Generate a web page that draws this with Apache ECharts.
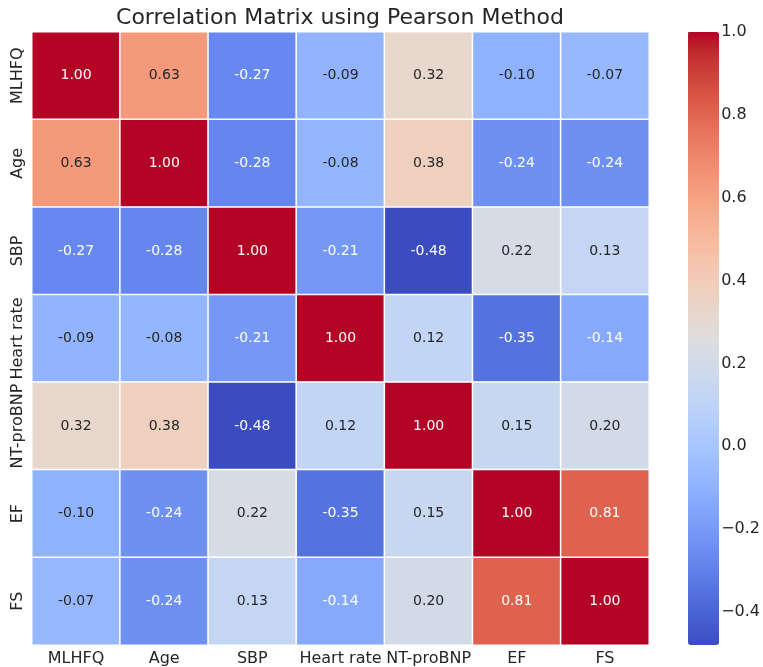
<!DOCTYPE html>
<html>
<head>
<meta charset="utf-8">
<script src="https://cdn.jsdelivr.net/npm/echarts@6/dist/echarts.min.js"></script>
<style>
  html, body { margin: 0; padding: 0; background: #fff; }
  #chart { width: 763px; height: 667px; }
</style>
</head>
<body>
<div id="chart"></div>
<script>
// Variables in the correlation matrix
const variables = ['MLHFQ', 'Age', 'SBP', 'Heart rate', 'NT-proBNP', 'EF', 'FS'];

// Pearson coefficients, one row per variable
const rowMLHFQ     = [1.00, 0.63, -0.27, -0.09, 0.32, -0.10, -0.07];
const rowAge       = [0.63, 1.00, -0.28, -0.08, 0.38, -0.24, -0.24];
const rowSBP       = [-0.27, -0.28, 1.00, -0.21, -0.48, 0.22, 0.13];
const rowHeartRate = [-0.09, -0.08, -0.21, 1.00, 0.12, -0.35, -0.14];
const rowNTproBNP  = [0.32, 0.38, -0.48, 0.12, 1.00, 0.15, 0.20];
const rowEF        = [-0.10, -0.24, 0.22, -0.35, 0.15, 1.00, 0.81];
const rowFS        = [-0.07, -0.24, 0.13, -0.14, 0.20, 0.81, 1.00];
const matrix = [rowMLHFQ, rowAge, rowSBP, rowHeartRate, rowNTproBNP, rowEF, rowFS];

// Colour bar tick labels
const colorbarTicks = [-0.4, -0.2, 0.0, 0.2, 0.4, 0.6, 0.8, 1.0];

const vMin = -0.48, vMax = 1.0;

// Diverging "coolwarm" palette (33 evenly spaced stops)
const coolwarm = [
  [59,76,192],[68,90,204],[77,104,215],[87,117,225],[98,130,234],[108,142,241],
  [119,154,247],[130,165,251],[141,176,254],[152,185,255],[163,194,255],[174,201,253],
  [184,208,249],[194,213,244],[204,217,238],[213,219,230],[221,221,221],[229,216,209],
  [236,211,197],[241,204,185],[245,196,173],[247,187,160],[247,177,148],[247,166,135],
  [244,154,123],[241,141,111],[236,127,99],[229,112,88],[222,96,77],[213,80,66],
  [203,62,56],[192,40,47],[180,4,38]
];
const coolwarmCss = coolwarm.map(c => 'rgb(' + c.join(',') + ')');

function colorAt(v) {
  let t = (v - vMin) / (vMax - vMin);
  t = Math.max(0, Math.min(1, t));
  const pos = t * (coolwarm.length - 1);
  const i = Math.min(Math.floor(pos), coolwarm.length - 2);
  const f = pos - i;
  return coolwarm[i].map((c, k) => c + (coolwarm[i + 1][k] - c) * f);
}
function luminance(rgb) {
  const lin = rgb.map(c => {
    c /= 255;
    return c <= 0.03928 ? c / 12.92 : Math.pow((c + 0.055) / 1.055, 2.4);
  });
  return 0.2126 * lin[0] + 0.7152 * lin[1] + 0.0722 * lin[2];
}

const cells = [];
matrix.forEach((row, r) => {
  row.forEach((v, c) => {
    const dark = luminance(colorAt(v)) > 0.408;
    cells.push({
      value: [c, r, v],
      label: { color: dark ? '#262626' : '#ffffff' }
    });
  });
});

const FONT = 'DejaVu Sans';
const chart = echarts.init(document.getElementById('chart'), null, { renderer: 'canvas' });

chart.setOption({
  backgroundColor: '#ffffff',
  animation: false,
  textStyle: { fontFamily: FONT },
  title: {
    text: 'Correlation Matrix using Pearson Method',
    left: 340,
    textAlign: 'center',
    top: 7,
    padding: 0,
    textStyle: { fontFamily: FONT, fontSize: 22, fontWeight: 'normal', color: '#262626' }
  },
  grid: [
    { left: 32, top: 32, width: 617, height: 613 },
    { left: 688, top: 32, width: 31, height: 613 }
  ],
  xAxis: [
    {
      type: 'category', gridIndex: 0, data: variables, position: 'bottom',
      axisLine: { show: false },
      axisTick: { show: true, alignWithLabel: true, inside: true, length: 4, lineStyle: { color: '#333', width: 1 } },
      axisLabel: { fontFamily: FONT, fontSize: 16, color: '#262626', margin: 6, interval: 0 },
      splitLine: { show: false }
    },
    { type: 'value', gridIndex: 1, show: false }
  ],
  yAxis: [
    {
      type: 'category', gridIndex: 0, data: variables, inverse: true,
      axisLine: { show: false },
      axisTick: { show: true, alignWithLabel: true, inside: true, length: 4, lineStyle: { color: '#333', width: 1 } },
      axisLabel: { fontFamily: FONT, fontSize: 16, color: '#262626', rotate: 90, margin: 6, interval: 0 },
      splitLine: { show: false }
    },
    {
      type: 'value', gridIndex: 1, min: vMin, max: vMax, position: 'right',
      axisLine: { show: false },
      splitLine: { show: false },
      axisTick: { show: true, length: 4, customValues: colorbarTicks, lineStyle: { color: '#333', width: 1 } },
      axisLabel: {
        fontFamily: FONT, fontSize: 16, color: '#262626', margin: 5,
        customValues: colorbarTicks,
        formatter: v => v.toFixed(1).replace('-', '\u2212')
      }
    }
  ],
  visualMap: {
    type: 'continuous',
    min: vMin, max: vMax,
    seriesIndex: 0,
    calculable: false,
    hoverLink: false,
    orient: 'vertical',
    left: 688, top: 32,
    itemWidth: 31, itemHeight: 613,
    padding: 0,
    text: null,
    inRange: { color: coolwarmCss }
  },
  series: [{
    type: 'heatmap',
    xAxisIndex: 0, yAxisIndex: 0,
    data: cells,
    itemStyle: { borderColor: '#ffffff', borderWidth: 1.5 },
    label: {
      show: true,
      fontFamily: FONT,
      fontSize: 14,
      formatter: p => p.value[2].toFixed(2)
    },
    emphasis: { disabled: true }
  }]
});
</script>
</body>
</html>
